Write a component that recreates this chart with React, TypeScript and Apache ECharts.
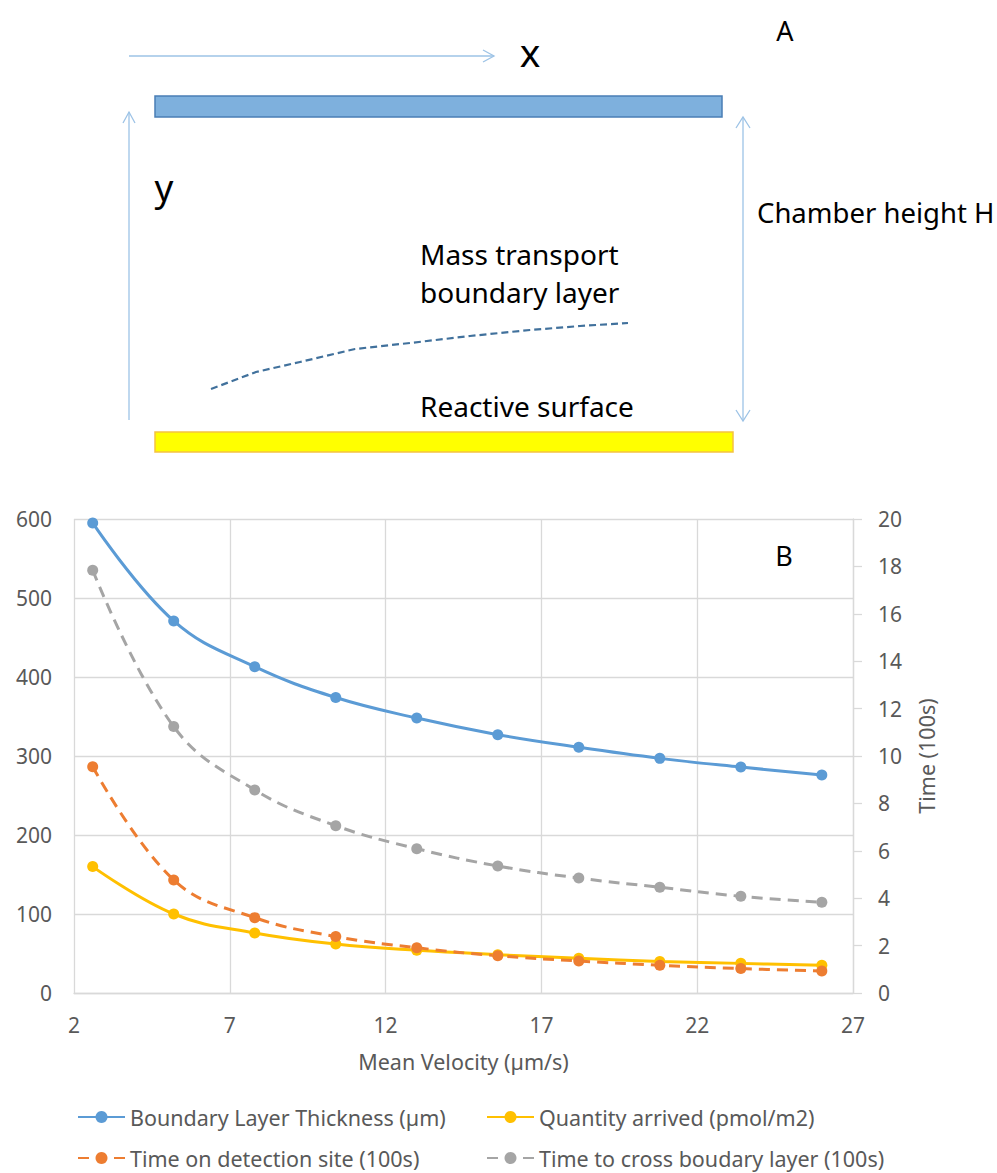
import React, { useEffect, useRef } from "react";
import * as echarts from "echarts";

// ---- data ----
const VELOCITY = [2.6, 5.2, 7.8, 10.4, 13.0, 15.6, 18.2, 20.8, 23.4, 26.0];
const BOUNDARY_LAYER = [595, 471, 413, 374, 348, 327, 311, 297, 286, 276];
const QUANTITY_ARRIVED = [160, 100, 76, 62, 54, 48.5, 44, 40, 37.5, 35];
const TIME_DETECTION = [9.55, 4.77, 3.18, 2.38, 1.91, 1.57, 1.35, 1.17, 1.03, 0.93];
const TIME_CROSS = [17.84, 11.24, 8.57, 7.06, 6.09, 5.36, 4.85, 4.46, 4.08, 3.83];

const SERIES_NAMES = [
  "Boundary Layer Thickness (µm)",
  "Quantity arrived (pmol/m2)",
  "Time on detection site (100s)",
  "Time to cross boudary layer (100s)",
];
const X_MIN = 2;
const X_MAX = 27;
const X_STEP = 5;

const FONT = "'Noto Sans', sans-serif";
const GREY_TEXT = "#595959";
const GRID_LINE = "#d9d9d9";

const pts = (ys: number[]) => VELOCITY.map((v, i) => [v - X_MIN, ys[i]]);

export default function App() {
  const ref = useRef<HTMLDivElement>(null);
  useEffect(() => {
    if (!ref.current) return;
    const chart = echarts.init(ref.current, null, { renderer: "svg" });
    const arrowColor = "#9dc3e6";
    const legendBase = {
      padding: 0,
      itemWidth: 47,
      itemHeight: 15,
      itemGap: 0,
      textStyle: { color: GREY_TEXT, fontSize: 21.5, fontFamily: FONT, padding: [0, 0, 0, 0] },
    };
    const lineSeries = (
      name: string,
      data: number[][],
      color: string,
      yAxisIndex: number,
      dashed: boolean
    ) => ({
      name,
      type: "line",
      yAxisIndex,
      data,
      smooth: 0.4,
      symbol: "circle",
      symbolSize: 11,
      itemStyle: { color },
      lineStyle: { color, width: 3, type: dashed ? [11, 7] : "solid" },
    });

    chart.setOption({
      animation: false,
      backgroundColor: "#ffffff",
      grid: { left: 74, right: 144, top: 519, bottom: 180, containLabel: false },
      xAxis: {
        type: "value",
        min: X_MIN - X_MIN,
        max: X_MAX - X_MIN,
        interval: X_STEP,
        axisLine: { show: true, lineStyle: { color: GRID_LINE, width: 1.3 } },
        axisTick: { show: false },
        splitLine: { show: true, lineStyle: { color: GRID_LINE, width: 1.3 } },
        axisLabel: {
          color: GREY_TEXT,
          fontSize: 21,
          fontFamily: FONT,
          margin: 21,
          formatter: (v: number) => String(v + X_MIN),
        },
        name: "Mean Velocity (µm/s)",
        nameLocation: "middle",
        nameGap: 57,
        nameTextStyle: { color: GREY_TEXT, fontSize: 21.5, fontFamily: FONT },
      },
      yAxis: [
        {
          type: "value",
          min: 0,
          max: 600,
          interval: 100,
          axisLine: { show: false },
          axisTick: { show: false },
          splitLine: { show: true, lineStyle: { color: GRID_LINE, width: 1.3 } },
          axisLabel: { color: GREY_TEXT, fontSize: 21, fontFamily: FONT, margin: 22 },
        },
        {
          type: "value",
          position: "right",
          min: 0,
          max: 20,
          interval: 2,
          axisLine: { show: true, lineStyle: { color: GRID_LINE, width: 1.3 } },
          axisTick: { show: true, inside: false, length: 9, lineStyle: { color: GRID_LINE, width: 1.3 } },
          splitLine: { show: false },
          axisLabel: { color: GREY_TEXT, fontSize: 21, fontFamily: FONT, margin: 25 },
          name: "Time (100s)",
          nameLocation: "middle",
          nameRotate: 90,
          nameGap: 62,
          nameTextStyle: { color: GREY_TEXT, fontSize: 21.5, fontFamily: FONT },
        },
      ],
      legend: [
        { ...legendBase, data: [SERIES_NAMES[0]], left: 77, top: 1106 },
        { ...legendBase, data: [SERIES_NAMES[1]], left: 486, top: 1106 },
        { ...legendBase, data: [SERIES_NAMES[2]], left: 77, top: 1147 },
        { ...legendBase, data: [SERIES_NAMES[3]], left: 486, top: 1147 },
      ],
      series: [
        lineSeries(SERIES_NAMES[0], pts(BOUNDARY_LAYER), "#5b9bd5", 0, false),
        lineSeries(SERIES_NAMES[1], pts(QUANTITY_ARRIVED), "#ffc000", 0, false),
        lineSeries(SERIES_NAMES[2], pts(TIME_DETECTION), "#ed7d31", 1, true),
        lineSeries(SERIES_NAMES[3], pts(TIME_CROSS), "#a5a5a5", 1, true),
      ],
      graphic: [
        // panel A schematic
        { type: "line", shape: { x1: 129, y1: 56, x2: 494, y2: 56 }, style: { stroke: arrowColor, lineWidth: 1.3 } },
        { type: "polyline", shape: { points: [[483, 50], [494, 56], [483, 62]] }, style: { stroke: arrowColor, lineWidth: 1.3, fill: null } },
        { type: "text", style: { text: "x", x: 530, y: 51, fontSize: 39, fontFamily: FONT, fill: "#000", align: "center", verticalAlign: "middle" } },
        { type: "text", style: { text: "A", x: 785, y: 30, fontSize: 27, fontFamily: FONT, fill: "#000", align: "center", verticalAlign: "middle" } },
        { type: "rect", shape: { x: 155, y: 96, width: 567, height: 21 }, style: { fill: "#7eb0dd", stroke: "#4a7eb5", lineWidth: 1.5 } },
        { type: "line", shape: { x1: 129, y1: 420, x2: 129, y2: 112 }, style: { stroke: arrowColor, lineWidth: 1.3 } },
        { type: "polyline", shape: { points: [[123, 123], [129, 112], [135, 123]] }, style: { stroke: arrowColor, lineWidth: 1.3, fill: null } },
        { type: "text", style: { text: "y", x: 164, y: 186, fontSize: 37, fontFamily: FONT, fill: "#000", align: "center", verticalAlign: "middle" } },
        { type: "line", shape: { x1: 743, y1: 117, x2: 743, y2: 421 }, style: { stroke: arrowColor, lineWidth: 1.3 } },
        { type: "polyline", shape: { points: [[736, 128], [743, 117], [750, 128]] }, style: { stroke: arrowColor, lineWidth: 1.3, fill: null } },
        { type: "polyline", shape: { points: [[736, 410], [743, 421], [750, 410]] }, style: { stroke: arrowColor, lineWidth: 1.3, fill: null } },
        { type: "text", style: { text: "Chamber height H", x: 757, y: 212, fontSize: 27.5, fontFamily: FONT, fill: "#000", align: "left", verticalAlign: "middle" } },
        { type: "text", style: { text: "Mass transport", x: 420, y: 254, fontSize: 28, fontFamily: FONT, fill: "#000", align: "left", verticalAlign: "middle" } },
        { type: "text", style: { text: "boundary layer", x: 420, y: 292, fontSize: 28, fontFamily: FONT, fill: "#000", align: "left", verticalAlign: "middle" } },
        {
          type: "polyline",
          shape: { points: [[211, 389], [256, 372], [300, 362], [355, 349], [410, 343], [470, 336], [530, 330], [580, 326], [628, 323]] },
          style: { stroke: "#41719c", lineWidth: 2.2, lineDash: [7, 4], fill: null },
        },
        { type: "text", style: { text: "Reactive surface", x: 420, y: 406, fontSize: 28, fontFamily: FONT, fill: "#000", align: "left", verticalAlign: "middle" } },
        { type: "rect", shape: { x: 155, y: 432, width: 578, height: 20 }, style: { fill: "#ffff00", stroke: "#f5c242", lineWidth: 1.5 } },
        // panel B label
        { type: "text", style: { text: "B", x: 784, y: 555, fontSize: 27, fontFamily: FONT, fill: "#000", align: "center", verticalAlign: "middle" } },
      ],
    });
    return () => chart.dispose();
  }, []);
  return <div ref={ref} style={{ position: "absolute", left: 0, top: 0, width: 997, height: 1173 }} />;
}
